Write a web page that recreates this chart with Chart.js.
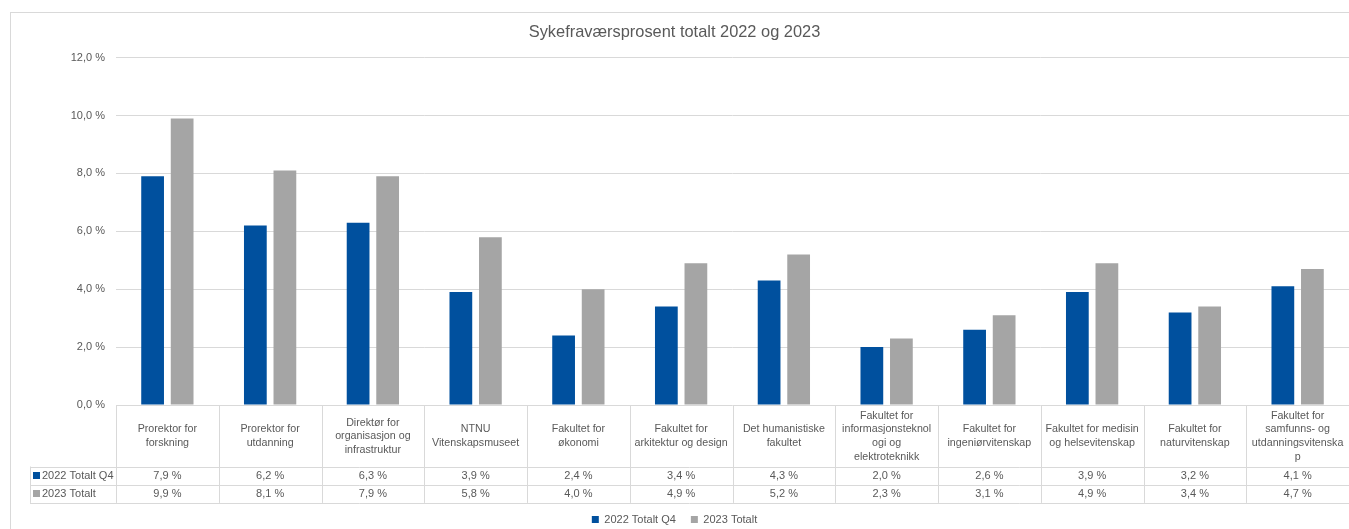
<!DOCTYPE html>
<html>
<head>
<meta charset="utf-8">
<script src="https://cdn.jsdelivr.net/npm/chart.js@4.4.0/dist/chart.umd.min.js"></script>
<style>
html, body { margin: 0; padding: 0; background: #fff; overflow: hidden; }
#frame { position: absolute; left: 10px; top: 12px; width: 1360px; height: 540px; border: 1px solid #d9d9d9; }
#wrap { position: absolute; left: 0; top: 0; width: 1349px; height: 535px; }
</style>
</head>
<body>
<div id="frame"></div>
<div id="wrap"><canvas id="chart" width="1349" height="535"></canvas></div>
<script>
// categories, pre-wrapped the way the table header shows them
const categories = [
    ['Prorektor for', 'forskning'],
    ['Prorektor for', 'utdanning'],
    ['Direktør for', 'organisasjon og', 'infrastruktur'],
    ['NTNU', 'Vitenskapsmuseet'],
    ['Fakultet for', 'økonomi'],
    ['Fakultet for', 'arkitektur og design'],
    ['Det humanistiske', 'fakultet'],
    ['Fakultet for', 'informasjonsteknol', 'ogi og', 'elektroteknikk'],
    ['Fakultet for', 'ingeniørvitenskap'],
    ['Fakultet for medisin', 'og helsevitenskap'],
    ['Fakultet for', 'naturvitenskap'],
    ['Fakultet for', 'samfunns- og', 'utdanningsvitenska', 'p']
];
const values2022 = [7.9, 6.2, 6.3, 3.9, 2.4, 3.4, 4.3, 2.0, 2.6, 3.9, 3.2, 4.1];
const values2023 = [9.9, 8.1, 7.9, 5.8, 4.0, 4.9, 5.2, 2.3, 3.1, 4.9, 3.4, 4.7];
const seriesNames = ['2022 Totalt Q4', '2023 Totalt'];
const yTicks = [0, 2, 4, 6, 8, 10, 12];

const BLUE = '#00509E', GRAY = '#A5A5A5', TEXT = '#595959', LINE = '#d9d9d9';
const FONT = '"Liberation Sans", Arial, sans-serif';

const fmt = v => v.toFixed(1).replace('.', ',') + ' %';

// data table under the plot (Excel style)
const dataTable = {
    id: 'dataTable',
    afterDraw(chart) {
        const { ctx, chartArea: ca, scales: { x } } = chart;
        const top = ca.bottom;
        const headH = 61.5, rowH = 18.2;
        const n = categories.length;
        const w = (ca.right - ca.left) / n;
        const rows = [values2022, values2023];
        const colors = [BLUE, GRAY];
        const px = v => Math.round(v) + 0.5;

        ctx.save();
        ctx.strokeStyle = LINE;
        ctx.lineWidth = 1;
        ctx.beginPath();
        // horizontal lines
        const yLines = [top + headH, top + headH + rowH, top + headH + 2 * rowH];
        yLines.forEach(y => { ctx.moveTo(30, px(y)); ctx.lineTo(ca.right, px(y)); });
        // vertical lines
        for (let i = 0; i <= n; i++) {
            const xx = px(ca.left + i * w);
            ctx.moveTo(xx, top); ctx.lineTo(xx, top + headH + 2 * rowH);
        }
        ctx.moveTo(30.5, top + headH); ctx.lineTo(30.5, top + headH + 2 * rowH);
        ctx.stroke();

        ctx.fillStyle = TEXT;
        ctx.textAlign = 'center';
        ctx.textBaseline = 'middle';
        const lh = 13.7;
        categories.forEach((lines, i) => {
            const cx = x.getPixelForTick(i);
            const y0 = top + 31.3 - (lines.length - 1) * lh / 2;
            ctx.font = '10.7px ' + FONT;
            lines.forEach((t, j) => ctx.fillText(t, cx, y0 + j * lh));
            ctx.font = '11px ' + FONT;
            rows.forEach((r, k) => ctx.fillText(fmt(r[i]), cx, top + headH + rowH * k + rowH / 2 + 0.5));
        });

        ctx.textAlign = 'left';
        rows.forEach((r, k) => {
            const cy = top + headH + rowH * k + rowH / 2;
            ctx.fillStyle = colors[k];
            ctx.fillRect(33, Math.round(cy - 4), 7, 7);
            ctx.fillStyle = TEXT;
            ctx.fillText(seriesNames[k], 42, cy + 0.5);
        });
        ctx.restore();
    }
};

new Chart(document.getElementById('chart'), {
    type: 'bar',
    data: {
        labels: categories,
        datasets: [
            { label: seriesNames[0], data: values2022, backgroundColor: BLUE },
            { label: seriesNames[1], data: values2023, backgroundColor: GRAY }
        ]
    },
    options: {
        responsive: false,
        animation: false,
        events: [],
        categoryPercentage: 0.575,
        barPercentage: 0.77,
        layout: { padding: { top: 12, left: 0, right: 0, bottom: 0 } },
        plugins: {
            title: {
                display: true,
                text: 'Sykefraværsprosent totalt 2022 og 2023',
                color: TEXT,
                font: { family: FONT, size: 16.4, weight: 'normal' },
                padding: { top: 11, bottom: 15 }
            },
            legend: {
                position: 'bottom',
                labels: { boxWidth: 7, boxHeight: 7, color: TEXT, font: { family: FONT, size: 11 }, padding: 15 }
            },
            tooltip: { enabled: false }
        },
        scales: {
            x: {
                ticks: { display: false },
                grid: { display: false },
                border: { display: false },
                afterFit: s => { s.height = 94; }
            },
            y: {
                min: yTicks[0],
                max: yTicks[yTicks.length - 1],
                afterBuildTicks: s => { s.ticks = yTicks.map(v => ({ value: v })); },
                ticks: { color: TEXT, font: { family: FONT, size: 11 }, padding: 11, callback: v => fmt(v) },
                grid: { color: LINE, drawTicks: false },
                border: { display: false },
                afterFit: s => { s.width = 116; }
            }
        }
    },
    plugins: [dataTable]
});
</script>
</body>
</html>
